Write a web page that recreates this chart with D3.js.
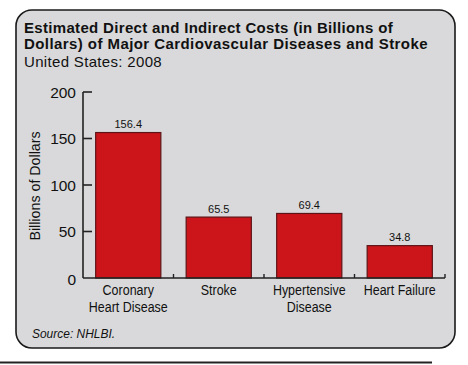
<!DOCTYPE html>
<html>
<head>
<meta charset="utf-8">
<script src="https://cdn.jsdelivr.net/npm/d3@7"></script>
<style>
  body { margin: 0; background: #fff; }
  text { font-family: "Liberation Sans", Arial, sans-serif; fill: #111; }
</style>
</head>
<body>
<svg id="chart" width="468" height="365"></svg>
<script>
let categories = [['Coronary', 'Heart Disease'], ['Stroke'], ['Hypertensive', 'Disease'], ['Heart Failure']];
let values = [156.4, 65.5, 69.4, 34.8];
let yTicks = [0, 50, 100, 150, 200];
let titleLines = ['Estimated Direct and Indirect Costs (in Billions of', 'Dollars) of Major Cardiovascular Diseases and Stroke'];
let subtitle = 'United States: 2008';
let yLabel = 'Billions of Dollars';
let source = 'Source: NHLBI.';

let svg = d3.select('#chart');

// stretch a text's letter spacing so it ends at the wanted width
function fit(t, w) {
    let n = t.text().length;
    let cur = t.node().getComputedTextLength();
    t.style('letter-spacing', ((w - cur) / n) + 'px');
}

// panel
svg.append('rect')
    .attr('x', 16).attr('y', 10)
    .attr('width', 439).attr('height', 338)
    .attr('rx', 16).attr('ry', 16)
    .attr('fill', '#d9d9db')
    .attr('stroke', '#1a1a1a')
    .attr('stroke-width', 1.6);

svg.append('line')
    .attr('x1', 0).attr('x2', 432)
    .attr('y1', 362.5).attr('y2', 362.5)
    .attr('stroke', '#222').attr('stroke-width', 2);

// titles
let tw = [369, 404];
svg.selectAll('.ttl')
    .data(titleLines)
    .enter()
    .append('text')
    .attr('class', 'ttl')
    .attr('x', 24)
    .attr('y', (d, i) => 33 + i * 15.5)
    .style('font-size', '15px')
    .style('font-weight', 'bold')
    .text(d => d)
    .each(function (d, i) { fit(d3.select(this), tw[i]); });

let st = svg.append('text')
    .attr('x', 24).attr('y', 67)
    .style('font-size', '15px')
    .text(subtitle);
fit(st, 138);

let x0 = 83, x1 = 445;
let y = d3.scaleLinear().domain([0, 200]).range([278, 92]);
let x = d3.scaleBand()
    .domain(d3.range(values.length))
    .range([x0, x1])
    .paddingInner(0.28)
    .paddingOuter(0.14);

// bars
svg.selectAll('.bar')
    .data(values)
    .enter()
    .append('rect')
    .attr('class', 'bar')
    .attr('x', (d, i) => x(i))
    .attr('y', d => y(d))
    .attr('width', x.bandwidth())
    .attr('height', d => y(0) - y(d))
    .attr('fill', '#cc151b')
    .attr('stroke', '#5e1416')
    .attr('stroke-width', 1.2);

svg.selectAll('.val')
    .data(values)
    .enter()
    .append('text')
    .attr('class', 'val')
    .attr('x', (d, i) => x(i) + x.bandwidth() / 2)
    .attr('y', d => y(d) - 4.5)
    .attr('text-anchor', 'middle')
    .style('font-size', '11px')
    .text(d => d.toFixed(1));

// y axis, ticks pointing inward
let ya = svg.append('g').attr('transform', 'translate(' + x0 + ',0)');
ya.append('line')
    .attr('x1', 0).attr('x2', 0)
    .attr('y1', y(200)).attr('y2', y(0))
    .attr('stroke', '#222').attr('stroke-width', 1.6);
ya.selectAll('.tk')
    .data(yTicks.filter(d => d > 0))
    .enter()
    .append('line')
    .attr('x1', 0).attr('x2', 9)
    .attr('y1', d => y(d)).attr('y2', d => y(d))
    .attr('stroke', '#222').attr('stroke-width', 1.6);
ya.selectAll('.tl')
    .data(yTicks)
    .enter()
    .append('text')
    .attr('x', -7)
    .attr('y', d => y(d) + (d === 0 ? 1.5 : 0))
    .attr('dy', '0.36em')
    .attr('text-anchor', 'end')
    .style('font-size', '15.5px')
    .text(d => d);

svg.append('text')
    .attr('transform', 'translate(40,186) rotate(-90) scale(0.92,1)')
    .attr('text-anchor', 'middle')
    .style('font-size', '15.5px')
    .text(yLabel);

// x axis
svg.append('line')
    .attr('x1', x0).attr('x2', x1)
    .attr('y1', y(0)).attr('y2', y(0))
    .attr('stroke', '#222').attr('stroke-width', 1.6);
svg.selectAll('.xt')
    .data(d3.range(1, values.length + 1))
    .enter()
    .append('line')
    .attr('x1', i => x0 + i * x.step()).attr('x2', i => x0 + i * x.step())
    .attr('y1', y(0)).attr('y2', y(0) - 4)
    .attr('stroke', '#222').attr('stroke-width', 1.4);

// category labels, squeezed to a narrow face
let cl = svg.selectAll('.cat')
    .data(categories)
    .enter()
    .append('text')
    .attr('class', 'cat')
    .attr('transform', (d, i) => 'translate(' + (x(i) + x.bandwidth() / 2) + ',295) scale(0.86,1)')
    .attr('text-anchor', 'middle')
    .style('font-size', '14.5px');
cl.selectAll('tspan')
    .data(d => d)
    .enter()
    .append('tspan')
    .attr('x', 0)
    .attr('dy', (d, i) => i === 0 ? 0 : 17.5)
    .text(d => d);

svg.append('text')
    .attr('transform', 'translate(32,337.5) scale(0.92,1)')
    .style('font-size', '13px')
    .style('font-style', 'italic')
    .text(source);
</script>
</body>
</html>
